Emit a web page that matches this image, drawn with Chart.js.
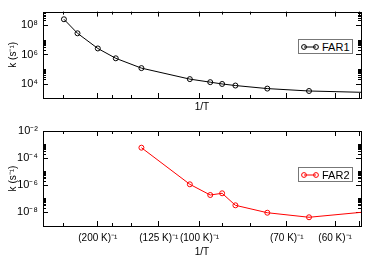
<!DOCTYPE html>
<html>
<head>
<meta charset="utf-8">
<script src="https://cdn.jsdelivr.net/npm/chart.js@4.4.0/dist/chart.umd.min.js"></script>
<style>
  body { margin: 0; background: #fff; }
  #wrap { position: relative; width: 366px; height: 259px; }
  canvas { position: absolute; left: 0; }
  .leg { position: absolute; left: 298px; width: 53px; height: 13px; border: 1px solid #777; background: #fff;
         font: 11px 'Liberation Sans', Arial, sans-serif; display: flex; align-items: center; }
  .leg svg { margin-left: 2px; margin-right: 3px; }
</style>
</head>
<body>
<div id="wrap">
  <canvas id="topChart" width="366" height="114" style="top:0"></canvas>
  <canvas id="botChart" width="366" height="145" style="top:114px"></canvas>
  <div class="leg" style="top:39px">
    <svg width="18" height="8"><line x1="3" y1="4" x2="15" y2="4" stroke="#000" stroke-width="1"/><circle cx="3" cy="4" r="2.4" fill="none" stroke="#000"/><circle cx="15" cy="4" r="2.4" fill="none" stroke="#000"/></svg>FAR1
  </div>
  <div class="leg" style="top:167px">
    <svg width="18" height="8"><line x1="3" y1="4" x2="15" y2="4" stroke="#f00" stroke-width="1"/><circle cx="3" cy="4" r="2.4" fill="none" stroke="#f00"/><circle cx="15" cy="4" r="2.4" fill="none" stroke="#f00"/></svg>FAR2
  </div>
</div>
<script>
// temperatures in K, plotted against 1/T
const far1Temps = [300, 250, 200, 170, 140, 105, 95, 90, 85, 75, 65, 55];
const far1Rates = [2.6e8, 2.9e7, 2.7e6, 5.8e5, 1.25e5, 2.24e4, 1.39e4, 1.05e4, 8.2e3, 5.1e3, 3.5e3, 2.8e3];
const far2Temps = [140, 105, 95, 90, 85, 75, 65, 55];
const far2Rates = [5.9e-4, 1.18e-6, 1.92e-7, 2.57e-7, 3.35e-8, 9.5e-9, 4.4e-9, 1.1e-8];

const xTickTemps = [300, 200, 175, 150, 125, 100, 90, 80, 70, 60, 56];
const xMajorTemps = [200, 125, 100, 70, 60, 56];
const xLabelTemps = [200, 125, 100, 70, 60];
const topMajorExps = [2, 4, 6, 8];
const botMajorExps = [-10, -8, -6, -4, -2];

const xMin = 0.002304, xMax = 0.01794;

const supMap = {'-': '⁻', '0': '⁰', '1': '¹', '2': '²', '3': '³', '4': '⁴', '5': '⁵', '6': '⁶', '7': '⁷', '8': '⁸', '9': '⁹'};
function sup(s) { return String(s).split('').map(c => supMap[c]).join(''); }

function findTemp(v, list) {
  return list.find(t => Math.abs(1 / t - v) < 1e-9);
}
function logTickVals(exps) {
  const vals = [];
  exps.forEach(e => {
    vals.push(10 ** e);
    for (let k = 2; k <= 10; k++) vals.push(k * 10 ** e);
  });
  return vals;
}
function majorExp(v, exps) {
  const l = Math.log10(v), r = Math.round(l);
  if (Math.abs(l - r) < 1e-6 && exps.includes(r)) return r;
  return null;
}

const font = { family: "'Liberation Sans', Arial, sans-serif", size: 10 };
const yFont = { family: "'Liberation Sans', Arial, sans-serif", size: 11 };

// inward tick marks: a dashed grid line that only shows at both ends
function xDash(ctx) {
  const a = ctx.chart.chartArea;
  if (!a || !ctx.tick) return [];
  const h = a.bottom - a.top;
  const L = findTemp(ctx.tick.value, xMajorTemps) ? 5 : 3;
  return [L, h - 2 * L, L, 2000];
}
function yDash(exps) {
  return function (ctx) {
    const a = ctx.chart.chartArea;
    if (!a || !ctx.tick) return [];
    const w = a.right - a.left;
    const L = majorExp(ctx.tick.value, exps) !== null ? 5 : 3;
    return [L, w - 2 * L, L, 2000];
  };
}

const framePlugin = {
  id: 'frame',
  beforeDatasetsDraw(chart) {
    const a = chart.chartArea, c = chart.ctx;
    c.save();
    c.strokeStyle = '#000';
    c.lineWidth = 1;
    c.strokeRect(Math.round(a.left) + 0.5, Math.round(a.top) + 0.5, Math.round(a.right - a.left), Math.round(a.bottom - a.top));
    c.restore();
  }
};

function makeChart(id, cfg) {
  const ctx = document.getElementById(id).getContext('2d');
  return new Chart(ctx, {
    type: 'line',
    data: {
      datasets: [{
        label: cfg.label,
        data: cfg.temps.map((t, i) => ({ x: 1 / t, y: cfg.rates[i] })),
        borderColor: cfg.color,
        borderWidth: 1,
        backgroundColor: 'transparent',
        pointRadius: 2.5,
        pointBorderWidth: 1,
        pointBorderColor: cfg.color,
        pointBackgroundColor: 'transparent',
        tension: 0
      }]
    },
    plugins: [framePlugin],
    options: {
      responsive: false,
      animation: false,
      devicePixelRatio: 1,
      events: [],
      layout: { padding: { top: cfg.padTop, right: 4, left: 0, bottom: 0 } },
      plugins: { legend: { display: false }, tooltip: { enabled: false } },
      scales: {
        x: {
          type: 'linear',
          min: xMin,
          max: xMax,
          afterFit: s => { s.height = cfg.xHeight; },
          afterBuildTicks: axis => {
            axis.ticks = xTickTemps.map(t => 1 / t).filter(v => v >= axis.min && v <= axis.max).map(v => ({ value: v }));
          },
          ticks: {
            display: cfg.xLabels,
            autoSkip: false,
            maxRotation: 0,
            padding: 6,
            color: '#000',
            font: font,
            callback: v => {
              const t = findTemp(v, xLabelTemps);
              return t ? '(' + t + ' K)' + sup('-1') : '';
            }
          },
          grid: { color: '#000', lineWidth: 1, drawTicks: false, tickLength: 0 },
          border: { display: false, dash: xDash },
          title: { display: true, text: '1/T', color: '#000', font: font, padding: { top: 0, bottom: 1 } }
        },
        y: {
          type: 'logarithmic',
          min: cfg.yMin,
          max: cfg.yMax,
          afterFit: s => { s.width = 43; },
          afterBuildTicks: axis => {
            axis.ticks = logTickVals(cfg.exps).filter(v => v >= axis.min && v <= axis.max).map(v => ({ value: v }));
          },
          ticks: {
            autoSkip: false,
            padding: 5,
            color: '#000',
            font: yFont,
            callback: v => {
              const e = majorExp(v, cfg.exps);
              return e !== null ? '10' + sup(e) : '';
            }
          },
          grid: { color: '#000', lineWidth: 1, drawTicks: false, tickLength: 0 },
          border: { display: false, dash: yDash(cfg.exps) },
          title: { display: true, text: 'k (s' + sup('-1') + ')', color: '#000', font: font, padding: { top: 7, bottom: 0 } }
        }
      }
    }
  });
}

makeChart('topChart', {
  label: 'FAR1', temps: far1Temps, rates: far1Rates, color: '#000',
  padTop: 4, xHeight: 16, xLabels: false, yMin: 1170, yMax: 8.6e8, exps: topMajorExps
});
makeChart('botChart', {
  label: 'FAR2', temps: far2Temps, rates: far2Rates, color: '#ff0000',
  padTop: 17, xHeight: 33, xLabels: true, yMin: 1e-9, yMax: 1e-2, exps: botMajorExps
});
</script>
</body>
</html>
